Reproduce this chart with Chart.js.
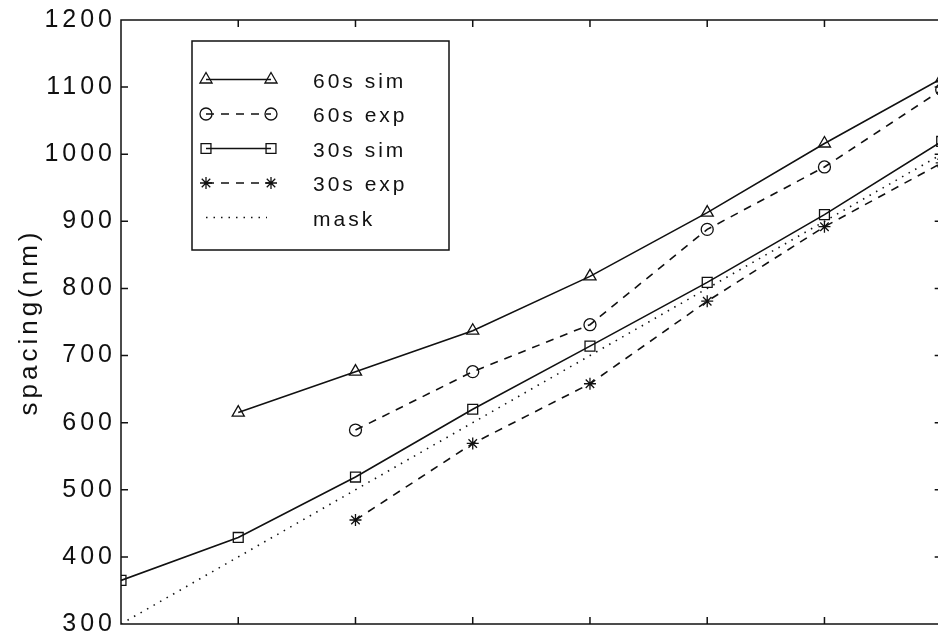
<!DOCTYPE html>
<html>
<head>
<meta charset="utf-8">
<script src="https://cdn.jsdelivr.net/npm/chart.js@4"></script>
<style>
  html, body { margin: 0; padding: 0; overflow: hidden; background: #fff; }
  #wrap { width: 950px; height: 644px; }
</style>
</head>
<body>
<div id="wrap"><canvas id="spacingChart"></canvas></div>
<script>
// x positions (mask spacing, nm) - the x tick labels are cut off in the original
const xValues = [300, 400, 500, 600, 700, 800, 900, 1000];
const sim60 = [null, 615, 676, 737, 818, 913, 1016, 1113];
const exp60 = [null, null, 589, 676, 746, 888, 981, 1096];
const sim30 = [365, 429, 519, 620, 714, 809, 910, 1019];
const exp30 = [null, null, 455, 569, 658, 781, 892, 987];
const mask = [300, 400, 500, 600, 700, 800, 900, 1000];
const seriesLabels = ["60s sim", "60s exp", "30s sim", "30s exp", "mask"];
const yMin = 300, yMax = 1200, yStep = 100;
const yTitle = "spacing(nm)";

const ink = "#111";
const toPoints = (arr) => xValues.map((x, i) => ({ x: x, y: arr[i] }));

const dashed = [8, 7];
const dotted = [1.5, 6];

function makeSet(label, arr, style, radius, dash) {
  return {
    label: label,
    data: toPoints(arr),
    borderColor: ink,
    borderWidth: 1.6,
    borderDash: dash,
    pointStyle: style,
    pointRadius: radius,
    pointBorderWidth: 1.3,
    pointBorderColor: ink,
    pointBackgroundColor: "rgba(0,0,0,0)",
    tension: 0,
    fill: false,
  };
}

const datasets = [
  makeSet(seriesLabels[0], sim60, "triangle", 7, []),
  makeSet(seriesLabels[1], exp60, "circle", 6, dashed),
  makeSet(seriesLabels[2], sim30, "rect", 7, []),
  makeSet(seriesLabels[3], exp30, "star", 6, dashed),
  makeSet(seriesLabels[4], mask, false, 0, dotted),
];

// box round the plot with inward ticks, like the matlab figure
const frameTicks = {
  id: "frameTicks",
  beforeDraw(chart) {
    chart.ctx.letterSpacing = "4px";
  },
  afterDatasetsDraw(chart) {
    const { ctx, chartArea: a, scales: { x, y } } = chart;
    ctx.save();
    ctx.strokeStyle = ink;
    ctx.lineWidth = 1.5;
    ctx.setLineDash([]);
    ctx.strokeRect(a.left, a.top, a.right - a.left, a.bottom - a.top);
    ctx.beginPath();
    x.ticks.forEach((t) => {
      if (t.value <= x.min || t.value >= x.max) return;
      const px = x.getPixelForValue(t.value);
      ctx.moveTo(px, a.bottom); ctx.lineTo(px, a.bottom - 7);
      ctx.moveTo(px, a.top); ctx.lineTo(px, a.top + 7);
    });
    y.ticks.forEach((t) => {
      if (t.value <= y.min || t.value >= y.max) return;
      const py = y.getPixelForValue(t.value);
      ctx.moveTo(a.left, py); ctx.lineTo(a.left + 7, py);
      ctx.moveTo(a.right, py); ctx.lineTo(a.right - 7, py);
    });
    ctx.stroke();
    ctx.restore();
  },
};

function drawMarker(ctx, style, radius, x, y) {
  if (!style || !radius) return;
  if (Chart.helpers && Chart.helpers.drawPoint) {
    Chart.helpers.drawPoint(ctx, { pointStyle: style, radius: radius, rotation: 0, borderWidth: 1.3 }, x, y);
    return;
  }
  ctx.beginPath();
  ctx.arc(x, y, radius, 0, Math.PI * 2);
  ctx.stroke();
}

const boxLegend = {
  id: "boxLegend",
  afterDraw(chart, args, opts) {
    const ctx = chart.ctx;
    ctx.save();
    ctx.letterSpacing = "0px";
    ctx.fillStyle = "#fff";
    ctx.fillRect(opts.left, opts.top, opts.right - opts.left, opts.bottom - opts.top);
    ctx.strokeStyle = ink;
    ctx.lineWidth = 1.5;
    ctx.setLineDash([]);
    ctx.strokeRect(opts.left, opts.top, opts.right - opts.left, opts.bottom - opts.top);

    chart.data.datasets.forEach((ds, i) => {
      const rowY = opts.firstRow + i * opts.rowGap;
      const x0 = opts.lineStart, x1 = ds.pointRadius ? opts.lineEnd : opts.lineEnd - 4;
      ctx.strokeStyle = ink;
      ctx.lineWidth = ds.borderWidth;
      ctx.setLineDash(ds.borderDash || []);
      ctx.beginPath();
      ctx.moveTo(x0, rowY);
      ctx.lineTo(x1, rowY);
      ctx.stroke();
      ctx.setLineDash([]);
      ctx.lineWidth = 1.3;
      ctx.fillStyle = "rgba(0,0,0,0)";
      drawMarker(ctx, ds.pointStyle, ds.pointRadius, x0, rowY);
      drawMarker(ctx, ds.pointStyle, ds.pointRadius, x1, rowY);

      ctx.letterSpacing = "3px";
      ctx.fillStyle = ink;
      ctx.font = '21px "Liberation Sans", Arial, sans-serif';
      ctx.textAlign = "left";
      ctx.textBaseline = "alphabetic";
      ctx.fillText(ds.label, opts.textX, rowY + 8);
      ctx.letterSpacing = "0px";
    });
    ctx.restore();
  },
};

function createSpacingChart() {
  const config = {
    type: "line",
    data: { datasets: datasets },
    options: {
      responsive: true,
      maintainAspectRatio: false,
      animation: false,
      layout: { padding: { left: 0, top: 18, right: 5, bottom: 17.5 } },
      plugins: {
        legend: { display: false },
        tooltip: { enabled: false },
        boxLegend: {
          left: 192, top: 41, right: 449, bottom: 250,
          firstRow: 79.5, rowGap: 34.5,
          lineStart: 206, lineEnd: 271, textX: 313,
        },
      },
      scales: {
        x: {
          type: "linear",
          min: xValues[0],
          max: xValues[xValues.length - 1],
          ticks: { display: false, stepSize: 100 },
          grid: { display: false, drawTicks: false },
          border: { display: false },
          afterFit: (scale) => { scale.height = 0; },
        },
        y: {
          min: yMin,
          max: yMax,
          ticks: {
            stepSize: yStep,
            padding: 5,
            color: ink,
            font: { family: '"Liberation Sans", Arial, sans-serif', size: 25 },
            callback: (value) => String(value),
          },
          grid: { display: false, drawTicks: false },
          border: { display: false },
          title: {
            display: true,
            text: yTitle,
            color: ink,
            padding: { top: 14, bottom: 0 },
            font: { family: '"Liberation Sans", Arial, sans-serif', size: 26 },
          },
          afterFit: (scale) => { scale.width = 121; },
        },
      },
    },
    plugins: [frameTicks, boxLegend],
  };

  const ctx = document.getElementById("spacingChart");
  new Chart(ctx, config);
}

document.addEventListener("DOMContentLoaded", () => {
  createSpacingChart();
});
</script>
</body>
</html>
